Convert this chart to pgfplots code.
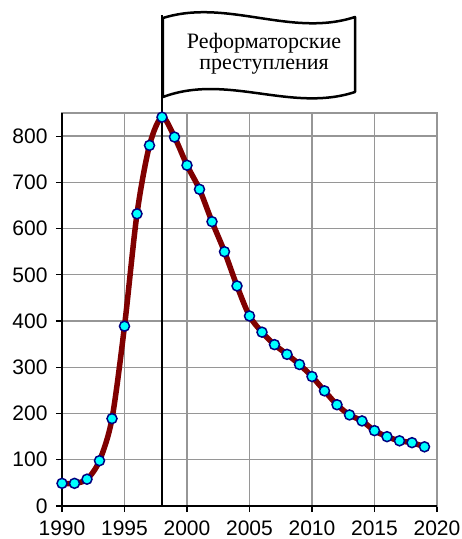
\documentclass[border=0pt]{standalone}
\usepackage{pgfplots}
\pgfplotsset{compat=1.18}
\usepackage{fontspec}
\setmainfont{Liberation Sans}
\newfontfamily\flagfont{Liberation Serif}

\definecolor{curve}{RGB}{128,0,0}
\definecolor{markfill}{RGB}{0,255,255}
\definecolor{markline}{RGB}{0,0,128}
\definecolor{gridgray}{RGB}{150,150,150}

\begin{document}
\begin{tikzpicture}
  \useasboundingbox (-62pt,-33pt) rectangle (400pt,506pt);
  \begin{axis}[
    at={(0,0)}, anchor=south west,
    scale only axis,
    width=375pt, height=393pt,
    xmin=1990, xmax=2020,
    ymin=0, ymax=850,
    xtick={1990,1995,...,2020},
    ytick={0,100,...,800},
    xtick pos=bottom,
    ytick pos=left,
    tick align=outside,
    major tick length=6pt,
    tick style={black, line width=1.2pt},
    grid=major,
    grid style={gridgray, line width=1.3pt},
    axis line style={gridgray, line width=1.3pt},
    /pgf/number format/1000 sep={},
    /pgf/number format/assume math mode=true,
    ticklabel style={font=\fontsize{21}{21}\selectfont},
    xticklabel style={yshift=-5pt},
    yticklabel style={xshift=-5pt},
    clip=false,
  ]

    % smoothed line
    \addplot[curve, line width=5.5pt, smooth, tension=0.5]
      coordinates {
        (1990, 49) (1991, 49) (1992, 58) (1993, 98) (1994, 189)
        (1995, 389) (1996, 632) (1997, 780) (1998, 841) (1999, 798)
        (2000, 737) (2001, 685) (2002, 615) (2003, 550) (2004, 476)
        (2005, 411) (2006, 376) (2007, 349) (2008, 328) (2009, 306)
        (2010, 280) (2011, 249) (2012, 219) (2013, 197) (2014, 184)
        (2015, 163) (2016, 150) (2017, 141) (2018, 137) (2019, 128)
      };

    % axis lines left and bottom
    \draw[black, line width=2pt] (axis cs:1990,850) -- (axis cs:1990,0) -- (axis cs:2020,0);
    % flag pole
    \draw[black, line width=2pt] (axis cs:1998,0) -- (axis cs:1998,1061);

    % markers
    \addplot[only marks, mark=*, mark size=5pt,
      mark options={fill=markfill, draw=markline, line width=1.5pt}]
      coordinates {
        (1990, 49) (1991, 49) (1992, 58) (1993, 98) (1994, 189)
        (1995, 389) (1996, 632) (1997, 780) (1998, 841) (1999, 798)
        (2000, 737) (2001, 685) (2002, 615) (2003, 550) (2004, 476)
        (2005, 411) (2006, 376) (2007, 349) (2008, 328) (2009, 306)
        (2010, 280) (2011, 249) (2012, 219) (2013, 197) (2014, 184)
        (2015, 163) (2016, 150) (2017, 141) (2018, 137) (2019, 128)
      };
  \end{axis}

  % flag
  \draw[black, line width=2.5pt, fill=white, line join=round]
    (101pt,409pt) -- (101pt,488pt)
    .. controls (165pt,508pt) and (229pt,468pt) .. (293pt,489pt)
    -- (293pt,414pt)
    .. controls (229pt,393pt) and (165pt,433pt) .. (101pt,409pt) -- cycle;
  \node[anchor=base, inner sep=0pt, font=\flagfont\fontsize{22}{22}\selectfont]
    at (202pt,457pt) {Реформаторские};
  \node[anchor=base, inner sep=0pt, font=\flagfont\fontsize{22}{22}\selectfont]
    at (202pt,436.5pt) {преступления};
\end{tikzpicture}
\end{document}
